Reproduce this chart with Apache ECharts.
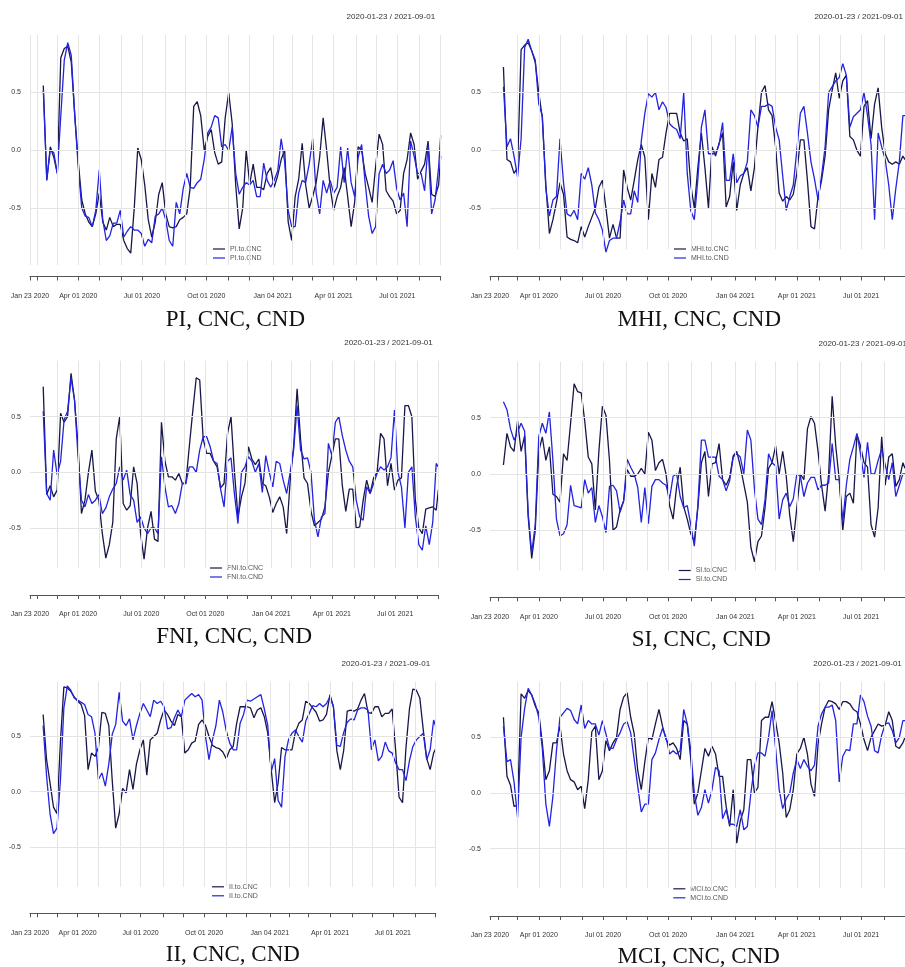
<!DOCTYPE html>
<html>
<head>
<meta charset="utf-8">
<script src="https://cdn.jsdelivr.net/npm/echarts@6/dist/echarts.min.js"></script>
<style>
  html, body { margin: 0; padding: 0; background: #ffffff; }
  #chart { width: 905px; height: 967px; }
</style>
</head>
<body>
<div id="chart"></div>
<script>
// ---- time index -------------------------------------------------------
const rangeStart = '2020-01-23';
const rangeEnd = '2021-09-01';
const seriesStart = '2020-02-11';   // first rolling-window observation
const stepDays = 5;                  // spacing of the stored observations
const tickDates = ['2020-01-23','2020-02-03','2020-03-02','2020-04-01','2020-05-01','2020-06-01',
  '2020-07-01','2020-08-03','2020-09-01','2020-10-01','2020-11-02','2020-12-01','2021-01-04',
  '2021-02-01','2021-03-01','2021-04-01','2021-05-03','2021-06-01','2021-07-01','2021-08-02','2021-09-01'];
const labelDates = ['2020-01-23','2020-04-01','2020-07-01','2020-10-01','2021-01-04','2021-04-01','2021-07-01'];
const yTickValues = [-0.5, 0, 0.5];

// ---- rolling correlations (every 5 days, last value = 2021-09-01) -----
const PI_CNC = [0.56,-0.26,0.03,-0.06,-0.2,0.80,0.88,0.90,0.76,0.3,
  -0.1,-0.43,-0.55,-0.62,-0.66,-0.55,-0.37,-0.62,-0.69,-0.58,
  -0.66,-0.64,-0.64,-0.78,-0.85,-0.89,-0.5,0.02,-0.08,-0.3,
  -0.6,-0.75,-0.62,-0.38,-0.28,-0.55,-0.66,-0.67,-0.66,-0.6,
  -0.58,-0.55,-0.32,0.38,0.42,0.3,0.0,0.12,0.18,-0.02,
  -0.12,-0.1,0.28,0.5,0.23,-0.3,-0.68,-0.5,0.0,-0.29,
  -0.12,-0.32,-0.32,-0.34,-0.2,-0.15,-0.32,-0.22,-0.08,0.0,
  -0.62,-0.78,-0.4,-0.25,0.06,-0.3,-0.5,-0.4,-0.28,-0.06,
  0.28,0.0,-0.32,-0.52,-0.4,-0.32,-0.15,-0.4,-0.66,-0.45,
  0.03,0.0,-0.2,-0.32,-0.45,-0.14,0.14,0.05,-0.35,-0.4,
  -0.44,-0.55,-0.52,-0.2,-0.08,0.15,0.05,-0.25,-0.18,-0.12,
  0.08,-0.38,-0.4,-0.3,-0.05];
const PI_CND = [0.52,-0.25,0.0,-0.02,-0.2,0.3,0.78,0.93,0.82,0.3,
  -0.15,-0.5,-0.57,-0.58,-0.66,-0.52,-0.17,-0.6,-0.78,-0.74,
  -0.63,-0.63,-0.52,-0.75,-0.7,-0.66,-0.69,-0.69,-0.72,-0.83,
  -0.77,-0.8,-0.57,-0.55,-0.5,-0.6,-0.78,-0.83,-0.45,-0.55,
  -0.33,-0.2,-0.32,-0.33,-0.28,-0.25,-0.08,0.15,0.2,0.3,
  0.28,0.03,0.05,0.0,0.2,-0.2,-0.38,-0.32,-0.28,-0.3,
  -0.26,-0.4,-0.4,-0.11,-0.26,-0.32,-0.26,-0.18,0.1,-0.1,
  -0.52,-0.66,-0.66,-0.37,-0.26,-0.28,-0.12,0.1,-0.37,-0.55,
  -0.26,-0.37,-0.26,-0.37,-0.32,0.03,-0.28,0.02,-0.28,-0.4,
  -0.06,0.05,-0.28,-0.57,-0.72,-0.66,-0.2,-0.12,-0.2,-0.17,
  -0.09,-0.33,-0.43,-0.37,-0.66,0.08,-0.05,-0.2,-0.2,-0.35,
  0.05,-0.55,-0.43,-0.15,0.13];

const MHI_CNC = [0.72,-0.08,-0.1,-0.2,-0.15,0.87,0.91,0.93,0.86,0.76,
  0.5,0.28,-0.3,-0.72,-0.6,-0.45,-0.28,-0.38,-0.75,-0.77,
  -0.78,-0.8,-0.66,-0.75,-0.66,-0.58,-0.5,-0.32,-0.26,-0.5,
  -0.76,-0.64,-0.76,-0.76,-0.17,-0.32,-0.43,-0.26,-0.08,0.05,
  -0.06,-0.6,-0.2,-0.32,-0.08,-0.06,0.15,0.32,0.32,0.32,
  0.15,0.08,0.1,-0.3,-0.5,-0.15,0.15,-0.15,-0.5,0.03,
  -0.05,0.06,0.15,-0.49,-0.4,-0.1,-0.52,-0.3,-0.2,-0.15,
  -0.35,-0.15,0.2,0.5,0.56,0.35,0.3,0.03,-0.37,-0.44,
  -0.4,-0.43,-0.38,-0.2,0.09,0.09,-0.26,-0.66,-0.68,-0.4,
  -0.26,-0.05,0.35,0.52,0.67,0.45,0.6,0.65,0.12,0.09,
  0.0,-0.05,0.38,0.43,0.1,0.4,0.54,0.2,-0.03,-0.1,
  -0.12,-0.1,-0.12,-0.05,-0.08];
const MHI_CND = [0.55,0.03,0.1,-0.05,-0.23,0.1,0.89,0.96,0.86,0.78,
  0.4,0.3,-0.33,-0.57,-0.43,-0.4,0.1,-0.28,-0.55,-0.57,
  -0.52,-0.6,-0.2,-0.25,-0.15,-0.3,-0.54,-0.6,-0.69,-0.88,
  -0.78,-0.76,-0.76,-0.62,-0.43,-0.55,-0.55,-0.35,-0.45,0.08,
  0.32,0.49,0.46,0.5,0.35,0.42,0.37,0.23,0.2,0.18,
  0.1,0.5,-0.2,-0.52,-0.6,-0.25,0.2,0.35,-0.03,-0.03,
  -0.03,0.05,0.24,-0.26,-0.26,-0.03,-0.28,-0.22,-0.2,-0.1,
  0.35,0.3,0.2,0.38,0.38,0.4,0.38,0.2,0.09,-0.22,
  -0.52,-0.4,-0.3,0.0,0.32,0.38,0.15,-0.1,-0.25,-0.43,
  -0.22,0.03,0.5,0.55,0.6,0.63,0.75,0.65,0.2,0.29,
  0.32,0.35,0.5,0.3,0.05,-0.6,0.15,0.03,-0.08,-0.3,
  -0.6,-0.33,-0.1,0.3,0.3];

const FNI_CNC = [0.77,-0.2,-0.12,-0.22,-0.16,0.53,0.45,0.5,0.89,0.65,
  0.25,-0.37,-0.25,0.0,0.2,-0.17,-0.25,-0.55,-0.77,-0.65,
  -0.45,0.3,0.5,-0.28,-0.34,-0.3,0.05,-0.1,-0.55,-0.78,
  -0.5,-0.35,-0.6,-0.62,0.45,0.1,-0.04,-0.04,-0.07,-0.01,
  -0.1,-0.1,0.23,0.55,0.85,0.83,0.3,0.17,0.17,0.1,
  0.05,-0.14,-0.1,0.35,0.5,0.0,-0.4,-0.22,-0.1,0.23,
  0.12,0.07,0.12,-0.1,-0.12,-0.22,-0.36,-0.28,-0.22,-0.31,
  -0.55,-0.08,0.23,0.75,0.3,-0.05,-0.1,-0.35,-0.48,-0.45,
  -0.42,-0.31,0.0,0.15,0.3,0.3,-0.12,-0.35,-0.15,-0.15,
  -0.5,-0.49,-0.25,-0.07,-0.19,-0.05,0.0,0.35,0.3,-0.12,
  0.08,-0.16,-0.07,-0.05,0.6,0.6,0.5,-0.25,-0.5,-0.55,
  -0.33,-0.32,-0.31,-0.34,-0.16];
const FNI_CND = [0.55,-0.19,-0.25,0.2,-0.02,0.1,0.47,0.55,0.85,0.65,
  0.15,-0.25,-0.31,-0.2,-0.28,-0.25,-0.2,-0.37,-0.32,-0.22,
  -0.15,-0.1,0.05,-0.07,0.02,-0.2,-0.25,-0.45,-0.4,-0.5,
  -0.55,-0.5,-0.5,-0.55,0.14,-0.13,-0.31,-0.3,-0.37,-0.28,
  -0.1,-0.1,0.05,0.05,0.0,0.2,0.32,0.32,0.23,0.1,
  0.08,-0.15,-0.31,0.1,0.13,-0.2,-0.46,0.0,0.05,0.14,
  0.1,0.0,0.08,-0.18,0.15,0.0,-0.13,0.1,0.08,-0.07,
  -0.19,0.0,0.2,0.6,0.2,0.12,0.13,0.0,-0.43,-0.58,
  -0.4,-0.37,0.26,0.15,0.45,0.5,0.33,0.2,0.1,0.05,
  -0.25,-0.4,-0.43,-0.13,-0.19,-0.1,-0.01,0.05,0.02,0.05,
  0.13,0.56,0.0,-0.13,-0.5,0.0,0.05,-0.4,-0.65,-0.7,
  -0.48,-0.65,-0.45,0.08,0.05];

const SI_CNC = [0.08,0.36,0.24,0.2,0.47,0.2,0.34,-0.38,-0.75,-0.5,
  0.2,0.33,0.12,0.24,-0.18,-0.2,-0.25,0.18,0.12,0.45,
  0.8,0.73,0.72,0.47,0.15,0.09,-0.32,0.2,0.6,0.52,
  0.12,-0.5,-0.47,-0.32,-0.24,0.04,-0.02,-0.02,0.0,0.05,
  0.0,0.37,0.3,0.03,0.1,0.13,0.0,-0.28,-0.4,-0.11,
  0.06,-0.29,-0.4,-0.53,-0.6,-0.3,0.1,0.2,-0.2,0.09,
  0.1,0.27,-0.05,-0.1,-0.03,0.16,0.2,0.07,-0.09,-0.25,
  -0.65,-0.78,-0.6,-0.55,-0.3,0.05,0.1,0.25,0.0,0.2,
  -0.02,-0.37,-0.6,-0.3,0.0,-0.05,0.4,0.51,0.45,0.2,
  -0.1,-0.33,0.0,0.69,0.25,-0.05,-0.5,-0.2,-0.17,-0.26,
  0.35,0.25,0.1,0.06,-0.45,-0.56,-0.3,0.33,-0.1,0.15,
  0.18,-0.11,-0.05,0.1,0.05];
const SI_CND = [0.64,0.57,0.4,0.3,0.37,0.45,0.38,-0.35,-0.7,-0.45,
  0.33,0.45,0.36,0.55,0.12,-0.4,-0.55,-0.53,-0.45,-0.1,
  -0.28,-0.29,-0.3,-0.05,-0.17,-0.12,-0.43,-0.28,-0.38,-0.52,
  -0.11,-0.1,-0.15,-0.34,-0.24,0.13,0.06,0.0,-0.12,-0.43,
  -0.12,-0.44,-0.11,-0.05,-0.05,-0.08,-0.1,-0.22,-0.02,0.0,
  -0.2,-0.3,-0.28,-0.45,-0.64,-0.28,0.3,0.3,0.15,0.15,
  0.15,-0.02,-0.05,-0.15,-0.06,0.15,0.18,0.15,0.0,0.39,
  0.3,-0.13,-0.4,-0.45,-0.23,0.18,0.1,0.07,-0.4,-0.23,
  -0.17,-0.29,-0.22,0.0,-0.02,-0.2,-0.08,-0.03,-0.03,-0.14,
  -0.1,-0.1,-0.08,0.27,-0.05,-0.05,-0.42,-0.1,0.13,0.24,
  0.36,0.18,-0.03,0.28,0.0,0.0,0.12,0.22,0.08,-0.05,
  0.1,-0.2,-0.1,0.0,0.0];

const II_CNC = [0.7,0.29,0.08,-0.14,-0.2,0.45,0.95,0.94,0.91,0.86,
  0.82,0.79,0.69,0.2,0.35,0.32,0.4,0.72,0.71,0.6,
  0.1,-0.33,-0.2,0.03,-0.01,0.2,0.02,0.25,0.38,0.47,
  0.15,0.47,0.5,0.53,0.65,0.74,0.7,0.64,0.6,0.7,
  0.68,0.35,0.38,0.44,0.46,0.61,0.65,0.6,0.5,0.42,
  0.4,0.39,0.36,0.3,0.38,0.41,0.62,0.77,0.77,0.77,
  0.76,0.67,0.74,0.76,0.68,0.53,0.2,-0.1,0.08,0.4,
  0.38,0.38,0.38,0.54,0.62,0.65,0.82,0.8,0.76,0.72,
  0.64,0.65,0.7,0.88,0.77,0.37,0.2,0.38,0.73,0.74,
  0.73,0.75,0.83,0.89,0.72,0.71,0.77,0.77,0.68,0.71,
  0.71,0.75,0.38,-0.05,-0.1,0.4,0.75,0.93,0.92,0.85,
  0.56,0.3,0.2,0.35,0.39];
const II_CND = [0.6,0.14,-0.2,-0.38,-0.33,0.1,0.76,0.96,0.92,0.85,
  0.83,0.81,0.79,0.7,0.68,0.53,0.11,0.17,0.05,0.25,
  0.52,0.61,0.9,0.64,0.6,0.66,0.47,0.6,0.71,0.8,
  0.74,0.68,0.83,0.8,0.82,0.77,0.57,0.58,0.67,0.74,
  0.68,0.83,0.86,0.89,0.86,0.88,0.83,0.5,0.29,0.47,
  0.6,0.83,0.72,0.55,0.44,0.38,0.38,0.62,0.7,0.83,
  0.82,0.84,0.86,0.88,0.75,0.6,0.18,0.3,-0.08,-0.14,
  0.32,0.47,0.53,0.56,0.5,0.45,0.64,0.71,0.78,0.77,
  0.8,0.77,0.8,0.86,0.77,0.42,0.41,0.54,0.63,0.66,
  0.65,0.74,0.76,0.76,0.74,0.38,0.47,0.28,0.32,0.45,
  0.37,0.35,0.26,0.2,0.2,0.1,0.28,0.41,0.47,0.5,
  0.53,0.29,0.38,0.65,0.59];

const MCI_CNC = [0.68,0.15,0.07,-0.12,-0.11,0.89,0.85,0.92,0.88,0.78,
  0.72,0.45,0.12,0.2,0.45,0.45,0.6,0.35,0.2,0.12,
  0.1,0.03,0.06,-0.14,0.12,0.55,0.6,0.12,0.2,0.47,
  0.38,0.45,0.5,0.75,0.86,0.9,0.68,0.53,0.2,0.03,
  0.28,0.5,0.48,0.62,0.75,0.6,0.48,0.43,0.45,0.4,
  0.3,0.65,0.62,0.3,-0.1,0.0,0.2,0.4,0.33,0.42,
  0.35,0.15,0.15,-0.12,-0.3,0.03,-0.45,-0.25,-0.15,0.3,
  0.3,0.0,0.05,0.65,0.68,0.68,0.82,0.64,0.45,0.18,
  -0.22,-0.15,0.03,0.35,0.4,0.5,0.35,0.08,-0.03,0.44,
  0.62,0.77,0.83,0.82,0.8,0.75,0.82,0.82,0.8,0.75,
  0.73,0.62,0.48,0.38,0.5,0.56,0.62,0.6,0.61,0.73,
  0.65,0.42,0.4,0.45,0.5];
const MCI_CND = [0.6,0.28,0.3,0.1,-0.22,0.5,0.76,0.94,0.88,0.8,
  0.68,0.4,-0.1,-0.3,-0.03,0.38,0.68,0.72,0.76,0.74,
  0.66,0.62,0.79,0.58,0.65,0.62,0.62,0.52,0.65,0.53,
  0.4,0.4,0.48,0.54,0.62,0.64,0.54,0.3,0.06,-0.17,
  -0.1,-0.1,0.3,0.36,0.48,0.58,0.5,0.35,0.38,0.35,
  0.38,0.75,0.62,0.38,0.0,-0.2,-0.13,0.03,-0.09,0.03,
  0.23,0.2,-0.23,-0.15,-0.28,-0.28,-0.3,-0.15,-0.33,-0.3,
  0.0,0.24,0.36,0.36,0.33,0.5,0.74,0.4,0.03,-0.14,
  -0.05,0.0,0.18,0.3,0.22,0.3,0.24,0.2,0.25,0.6,
  0.71,0.77,0.77,0.79,0.65,0.1,0.33,0.39,0.38,0.62,
  0.62,0.88,0.82,0.69,0.6,0.38,0.36,0.52,0.62,0.63,
  0.56,0.45,0.5,0.65,0.65];

const panels = [
  { name: 'PI',  cnc: PI_CNC,  cnd: PI_CND },
  { name: 'MHI', cnc: MHI_CNC, cnd: MHI_CND },
  { name: 'FNI', cnc: FNI_CNC, cnd: FNI_CND },
  { name: 'SI',  cnc: SI_CNC,  cnd: SI_CND },
  { name: 'II',  cnc: II_CNC,  cnd: II_CND },
  { name: 'MCI', cnc: MCI_CNC, cnd: MCI_CND }
];

// ---- page layout (pixels) ---------------------------------------------
const layout = [
  { left: 30,  width: 410.7, top: 35,    height: 230,   axisY: 276.5, yMin: -0.992, yMax: 0.997, titleY: 320,   dateY: 17,    legendX: 213,   legendY: 245,   vlineFrom: 0 },
  { left: 490, width: 418.5, top: 35,    height: 214.3, axisY: 276.5, yMin: -0.856, yMax: 0.997, titleY: 320,   dateY: 17,    legendX: 674,   legendY: 245,   vlineFrom: 2 },
  { left: 30,  width: 408.3, top: 360.7, height: 207.6, axisY: 595,   yMin: -0.862, yMax: 1.003, titleY: 636.5, dateY: 342.7, legendX: 210,   legendY: 564,   vlineFrom: 2 },
  { left: 490, width: 422.6, top: 361.7, height: 209,   axisY: 597.3, yMin: -0.858, yMax: 0.996, titleY: 640,   dateY: 343.5, legendX: 678.7, legendY: 566.5, vlineFrom: 2 },
  { left: 30,  width: 405.7, top: 681.7, height: 205,   axisY: 913.3, yMin: -0.861, yMax: 0.997, titleY: 955,   dateY: 663.3, legendX: 212,   legendY: 882.8, vlineFrom: 2 },
  { left: 490, width: 417.4, top: 681.7, height: 206.6, axisY: 916,   yMin: -0.855, yMax: 0.999, titleY: 956.5, dateY: 663.3, legendX: 673.3, legendY: 884.8, vlineFrom: 2 }
];

const COLOR_CNC = '#17174a';
const COLOR_CND = '#2323e0';
const GRID_COLOR = '#e4e4e4';
const SANS = 'Liberation Sans, Arial, sans-serif';
const MONTHS = ['Jan','Feb','Mar','Apr','May','Jun','Jul','Aug','Sep','Oct','Nov','Dec'];

function toTime(s) {
  const p = s.split('-').map(Number);
  return Date.UTC(p[0], p[1] - 1, p[2]);
}
function fmtDate(v) {
  const d = new Date(v);
  return MONTHS[d.getUTCMonth()] + ' ' + String(d.getUTCDate()).padStart(2, '0') + ' ' + d.getUTCFullYear();
}
const DAY = 86400000;
function pairUp(values) {
  const t0 = toTime(seriesStart);
  return values.map((v, i) => [i === values.length - 1 ? toTime(rangeEnd) : t0 + i * stepDays * DAY, v]);
}

const tickTimes = tickDates.map(toTime);
const labelTimes = labelDates.map(toTime);
const rangeText = rangeStart + ' / ' + rangeEnd;

const grids = [], xAxes = [], yAxes = [], series = [], legends = [], graphics = [];

panels.forEach((p, k) => {
  const L = layout[k];
  grids.push({ left: L.left, top: L.top, width: L.width, height: L.height, containLabel: false });

  // dates are held as UTC timestamps on a value axis
  xAxes.push({
    type: 'value', gridIndex: k,
    min: toTime(rangeStart), max: toTime(rangeEnd),
    offset: L.axisY - (L.top + L.height),
    axisLine: { show: true, onZero: false, lineStyle: { color: '#555', width: 1 } },
    axisTick: { show: true, customValues: tickTimes, length: 4, lineStyle: { color: '#555', width: 1 } },
    axisLabel: { show: true, customValues: labelTimes, formatter: fmtDate, fontSize: 7,
                 fontFamily: SANS, color: '#333', margin: 16, hideOverlap: false },
    splitLine: { show: false }
  });

  yAxes.push({
    type: 'value', gridIndex: k, min: L.yMin, max: L.yMax,
    axisLine: { show: false }, axisTick: { show: false }, splitLine: { show: false },
    axisLabel: { show: true, customValues: yTickValues, formatter: v => v.toFixed(1), fontSize: 7,
                 fontFamily: SANS, color: '#333', margin: 9 }
  });

  // light grid: monthly verticals and the three value levels
  const gridLines = tickTimes.slice(L.vlineFrom).map(t => ({ xAxis: t }))
    .concat(yTickValues.map(v => ({ yAxis: v })));
  series.push({
    type: 'line', xAxisIndex: k, yAxisIndex: k, data: [], silent: true, z: 1,
    markLine: { silent: true, symbol: ['none', 'none'], label: { show: false }, animation: false,
                lineStyle: { color: GRID_COLOR, width: 1, type: 'solid' },
                data: gridLines }
  });

  const nameCNC = p.name + '.to.CNC';
  const nameCND = p.name + '.to.CND';
  series.push({
    type: 'line', name: nameCNC, xAxisIndex: k, yAxisIndex: k, data: pairUp(p.cnc),
    symbol: 'none', showSymbol: false, clip: false, z: 3,
    lineStyle: { color: COLOR_CNC, width: 1.3 }, itemStyle: { color: COLOR_CNC }
  });
  series.push({
    type: 'line', name: nameCND, xAxisIndex: k, yAxisIndex: k, data: pairUp(p.cnd),
    symbol: 'none', showSymbol: false, clip: false, z: 4,
    lineStyle: { color: COLOR_CND, width: 1.3 }, itemStyle: { color: COLOR_CND }
  });

  legends.push({
    data: [nameCNC, nameCND], orient: 'vertical', left: L.legendX, top: L.legendY,
    padding: 0, itemGap: 1, itemWidth: 12, itemHeight: 1.2, icon: 'rect', selectedMode: false,
    textStyle: { fontSize: 7, lineHeight: 8, color: '#555', fontFamily: SANS }
  });

  graphics.push({
    type: 'text', x: L.left + L.width - 5.6, y: L.dateY, silent: true,
    style: { text: rangeText, font: '8px "Liberation Sans", Arial, sans-serif', fill: '#333',
             textAlign: 'right', textVerticalAlign: 'middle' }
  });
  graphics.push({
    type: 'text', x: L.left + L.width / 2, y: L.titleY, silent: true,
    style: { text: p.name + ', CNC, CND', font: '23px "Liberation Serif", "Times New Roman", serif', fill: '#111',
             textAlign: 'center', textVerticalAlign: 'middle' }
  });
});

const chart = echarts.init(document.getElementById('chart'), null, { renderer: 'canvas' });
chart.setOption({
  animation: false,
  backgroundColor: '#ffffff',
  grid: grids,
  xAxis: xAxes,
  yAxis: yAxes,
  legend: legends,
  series: series,
  graphic: graphics
});
</script>
</body>
</html>
